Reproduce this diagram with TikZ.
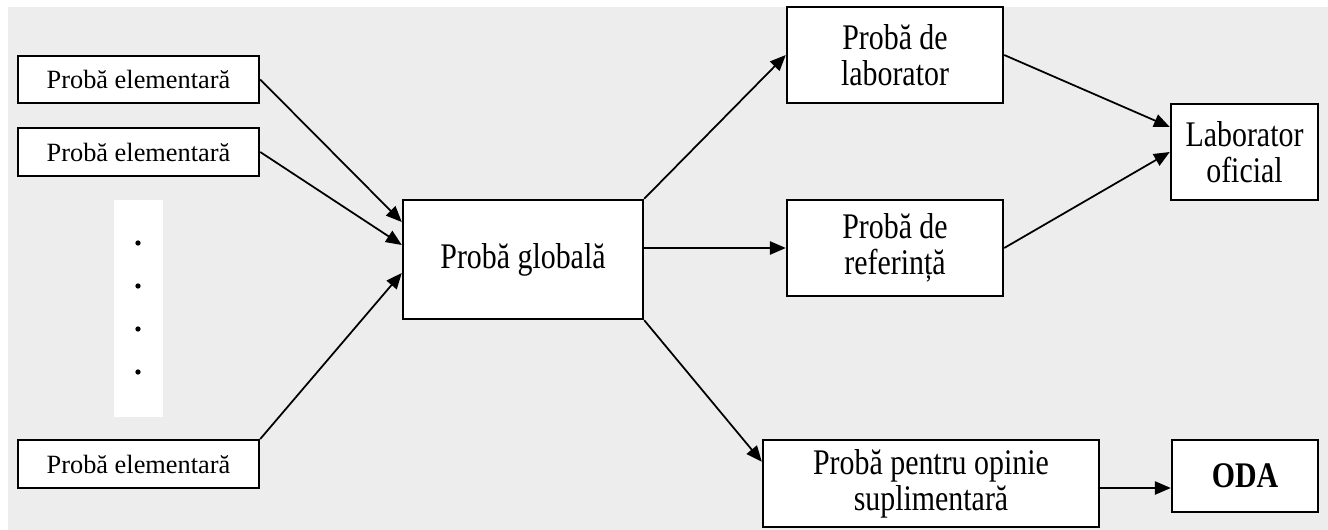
\documentclass[tikz,border=0pt]{standalone}
\usepackage{fontspec}
\setmainfont{Liberation Serif}
\newfontfamily\narrowfont{Liberation Serif}[FakeStretch=0.83]
\usetikzlibrary{positioning,arrows.meta,calc}

\begin{document}
\begin{tikzpicture}[
  x=0.02cm, y=-0.02cm,
  box/.style={draw, line width=1.4pt, fill=white, align=center, inner sep=2pt},
  elem/.style={box, minimum width=4.82cm, minimum height=0.95cm,
               font=\fontsize{15}{17}\selectfont},
  stage/.style={box, minimum height=1.92cm,
                font=\fontsize{20.5}{20.5}\narrowfont},
  arrow/.style={-{Triangle[length=9pt,width=7.5pt]}, line width=1pt}
]
\useasboundingbox (0,0) rectangle (1328,530);
\fill[black!7] (8,7) rectangle (1328,530);
% left column
\node[elem] (e1) at (138.5,79.5) {Probă elementară};
\node[elem] (e2) at (138.5,152)  {Probă elementară};
\node[elem] (e3) at (138.5,464)  {Probă elementară};
\node[fill=white, minimum width=0.98cm, minimum height=4.34cm, inner sep=0pt] (gap) at (138.5,308.5) {};
\foreach \y in {243,286,329,372}
  \fill (138,\y) circle[radius=1.5pt];
% middle and right
\node[stage, minimum width=4.8cm, minimum height=2.38cm] (glob) at (523,259.5) {Probă globală};
\node[stage, minimum width=4.32cm] (lab) at (895,55)  {Probă de\\laborator};
\node[stage, minimum width=4.32cm] (ref) at (895,248) {Probă de\\referință};
\node[stage, minimum width=2.94cm] (ofi) at (1244.5,152) {Laborator\\oficial};
\node[stage, minimum width=6.72cm, minimum height=1.74cm] (opi) at (931,483.5) {Probă pentru opinie\\suplimentară};
\node[stage, minimum width=2.92cm, minimum height=1.44cm,
      font=\fontsize{20.5}{20.5}\narrowfont\bfseries] (oda) at (1245,476) {ODA};
% connectors
\draw[arrow] (e1.east) -- ([yshift=0.75cm]glob.west);
\draw[arrow] (e2.east) -- ([yshift=0.29cm]glob.west);
\draw[arrow] (e3.north east) -- ([yshift=-0.27cm]glob.west);
\draw[arrow] (glob.north east) -- (lab.west);
\draw[arrow] (glob.east |- ref.west) -- (ref.west);
\draw[arrow] (glob.south east) -- ([yshift=-0.46cm]opi.north west);
\draw[arrow] (lab.east) -- ([yshift=0.5cm]ofi.west);
\draw[arrow] (ref.east) -- (ofi.west);
\draw[arrow] ([yshift=-0.09cm]opi.east) -- ([yshift=-0.09cm]opi.east -| oda.west);
\end{tikzpicture}
\end{document}
